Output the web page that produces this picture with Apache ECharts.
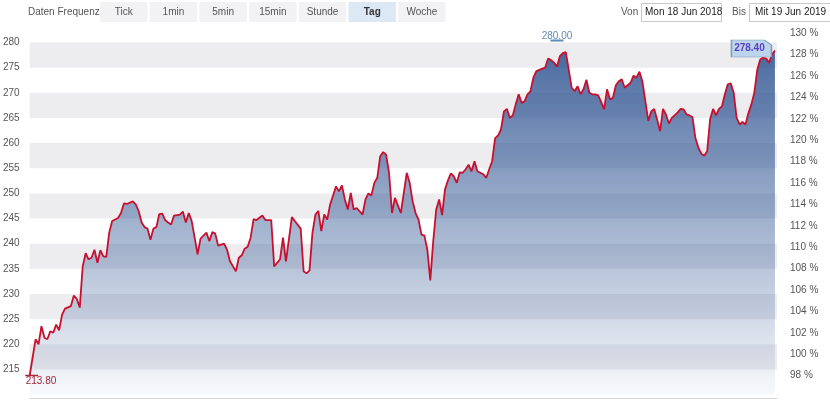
<!DOCTYPE html>
<html><head><meta charset="utf-8">
<script src="https://cdn.jsdelivr.net/npm/echarts@6/dist/echarts.min.js"></script>
<style>html,body{margin:0;padding:0;background:#fff}#c{width:830px;height:411px}</style>
</head><body><div id="c"></div>
<script>
// trading-day index (0 = Mon 18 Jun 2018)
const days = [0,2,3,4,5,6,7,8,9,10,11,12,14,15,16,17,18,19,20,21,22,23,24,25,26,27,28,30,31,32,33,35,36,37,38,39,40,41,42,43,44,45,46,47,48,49,51,52,53,54,55,56,57,58,60,61,62,63,64,66,67,68,70,71,72,73,74,75,76,77,79,80,82,83,84,85,86,87,89,90,92,93,94,95,96,97,98,99,100,101,102,104,105,106,107,108,109,110,111,113,114,115,116,117,118,119,120,121,122,123,124,126,128,129,130,131,132,133,134,135,136,137,138,139,140,141,142,143,144,145,146,147,148,149,150,151,152,154,155,156,157,158,159,160,161,162,163,164,165,166,167,168,169,170,171,172,174,175,176,177,178,179,180,181,182,183,184,185,186,187,188,189,190,191,192,193,194,195,196,197,198,199,200,201,202,204,205,206,207,208,210,211,212,213,214,215,216,217,218,220,221,222,223,224,225,226,227,228,229,230,231,232,233,234,235,236,237,238,239,240,241,242,243,244,245,246,247,248,249,250,251,252,253];
const prices = [213.8,221.0,220.0,223.6,221.3,221.0,222.6,222.3,223.9,222.8,225.9,227.1,227.6,229.7,229.0,227.3,235.5,238.1,236.9,237.2,238.8,236.2,238.7,237.5,237.4,242.2,244.5,245.1,246.1,248.0,247.9,248.4,247.8,246.5,244.2,243.3,243.0,240.8,243.0,243.3,245.9,246.0,244.7,244.2,243.8,245.6,245.8,246.4,244.2,246.1,244.5,241.2,237.9,241.0,242.2,240.5,242.3,242.0,239.6,240.0,238.8,236.5,234.5,237.2,237.7,239.0,239.4,241.2,244.9,244.7,245.6,244.7,244.7,235.5,236.2,236.9,241.2,236.5,245.3,244.5,243.0,234.5,234.1,234.7,242.2,245.8,246.5,242.5,245.8,244.8,247.8,251.4,250.4,251.6,248.8,246.8,250.1,246.8,247.1,245.8,248.8,250.0,249.6,252.1,253.1,257.4,258.2,257.7,254.1,246.1,249.1,246.1,254.1,252.1,248.4,246.1,244.8,241.8,241.6,238.8,232.7,240.5,246.8,248.8,245.7,250.8,252.6,254.0,253.4,252.1,254.2,254.1,254.8,255.7,254.4,256.4,254.4,253.8,253.1,254.8,256.4,261.0,261.5,262.7,266.3,266.8,265.0,265.5,267.7,269.7,268.0,268.3,269.7,270.3,273.0,274.3,274.8,275.0,276.8,276.5,276.0,275.2,277.3,277.9,278.1,274.6,271.0,270.3,271.3,269.7,270.7,272.6,270.0,269.7,269.7,269.5,268.2,266.7,270.7,268.7,269.0,271.5,272.3,272.7,271.0,272.0,273.4,273.0,274.2,272.3,264.4,266.3,266.8,264.7,262.4,266.8,265.7,263.9,265.0,266.1,266.8,266.7,265.7,265.5,265.2,261.0,259.1,257.9,257.5,258.4,264.8,266.8,265.5,266.8,267.3,269.7,271.7,271.9,270.0,265.0,263.7,264.2,263.7,266.0,267.7,270.0,274.6,276.6,277.0,276.8,276.0,277.6,278.4];
const lowPoint = {day: 0, value: 213.8, label: '213.80'};
const highPoint = {day: 179, value: 280.0, label: '280.00'};
const lastPoint = {day: 253, value: 278.4, label: '278.40'};
const frequencyButtons = ['Tick','1min','5min','15min','Stunde','Tag','Woche'];
const activeButton = 'Tag';
const fromDate = 'Mon 18 Jun 2018';
const toDate = 'Mit 19 Jun 2019';

const FONT = 'Liberation Sans, Arial, Helvetica, sans-serif';
const chart = echarts.init(document.getElementById('c'), null, {renderer: 'canvas'});

const graphics = [
  {type:'text', left: 28, top: 7, style:{text:'Daten Frequenz', fill:'#555', font:'10px ' + FONT}}
];
frequencyButtons.forEach((b, i) => {
  const x = 100 + i * 49.7;
  const active = b === activeButton;
  graphics.push({type:'rect', shape:{x: x, y: 2, width: 47.5, height: 20}, style:{fill: active ? '#dde8f5' : '#f2f2f4'}});
  graphics.push({type:'text', x: x + 23.75, y: 12, style:{text: b, fill: active ? '#333' : '#555', font:(active ? 'bold ' : '') + '10px ' + FONT, textAlign:'center', textVerticalAlign:'middle'}});
});
graphics.push({type:'text', x: 621, y: 12.5, style:{text:'Von', fill:'#555', font:'10px ' + FONT, textVerticalAlign:'middle'}});
graphics.push({type:'rect', shape:{x: 641.5, y: 3.5, width: 80, height: 18}, style:{fill:'#fff', stroke:'#c8c8c8', lineWidth:1}});
graphics.push({type:'text', x: 645, y: 12.5, style:{text: fromDate, fill:'#222', font:'10px ' + FONT, textVerticalAlign:'middle'}});
graphics.push({type:'text', x: 732, y: 12.5, style:{text:'Bis', fill:'#555', font:'10px ' + FONT, textVerticalAlign:'middle'}});
graphics.push({type:'rect', shape:{x: 749.5, y: 3.5, width: 82, height: 18}, style:{fill:'#fff', stroke:'#c8c8c8', lineWidth:1}});
graphics.push({type:'text', x: 755, y: 12.5, style:{text: toDate, fill:'#222', font:'10px ' + FONT, textVerticalAlign:'middle'}});

const option = {
  animation: false,
  backgroundColor: '#fff',
  graphic: graphics,
  grid: [
    {left: 26.7, right: 53, top: 17.35, bottom: 16.4},
    {left: 26.7, right: 53, top: 33.3, bottom: 13.9}
  ],
  xAxis: [
    {gridIndex: 0, type: 'value', min: 0, max: 253.7, offset: 3.5,
     axisLine: {show: true, lineStyle: {color: '#d6d6d6', width: 1}},
     axisTick: {show: false}, axisLabel: {show: false}, splitLine: {show: false}},
    {gridIndex: 1, type: 'value', min: 0, max: 1, show: false}
  ],
  yAxis: [
    {gridIndex: 0, type: 'value', min: 210, max: 285, interval: 5, position: 'left',
     axisLine: {show: false}, axisTick: {show: false}, splitLine: {show: false},
     splitArea: {show: true, areaStyle: {color: ['rgba(255,255,255,0)', '#ededf0']}},
     axisLabel: {showMinLabel: false, showMaxLabel: false, margin: 10, color: '#555', fontSize: 10, fontFamily: FONT}},
    {gridIndex: 1, type: 'value', min: 96, max: 130, interval: 2, position: 'right',
     axisLine: {show: false}, axisTick: {show: false}, splitLine: {show: false},
     axisLabel: {showMinLabel: false, margin: 13, color: '#555', fontSize: 10, fontFamily: FONT, formatter: '{value} %'}}
  ],
  series: [{
    type: 'line',
    xAxisIndex: 0, yAxisIndex: 0,
    data: days.map((d, i) => [d, prices[i]]),
    symbol: 'none',
    lineStyle: {color: '#c8102e', width: 1.8},
    areaStyle: {opacity: 1, color: new echarts.graphic.LinearGradient(0, 50, 0, 395, [
      {offset: 0, color: 'rgba(35,75,140,0.82)'},
      {offset: 1, color: 'rgba(35,75,140,0.03)'}
    ], true)},
    markPoint: {
      silent: true,
      animation: false,
      data: [
        {coord: [lowPoint.day, lowPoint.value], symbol: 'rect', symbolSize: [13, 1.5], symbolOffset: [2, 0],
         itemStyle: {color: '#a8283f'},
         label: {show: true, formatter: lowPoint.label, position: [0.5, 2], color: '#a8283f', fontSize: 10, fontFamily: FONT}},
        {coord: [highPoint.day, highPoint.value], symbol: 'rect', symbolSize: [13, 2], symbolOffset: [0, -2],
         itemStyle: {color: '#5f8bb3'},
         label: {show: true, formatter: highPoint.label, position: 'top', distance: -2, color: '#5f8bb3', fontSize: 10, fontFamily: FONT}},
        {coord: [lastPoint.day, lastPoint.value], symbol: 'path://M0,0 L33,0 L40,5 L40,17 L0,17 Z', symbolSize: [40, 17], symbolOffset: [-23.5, -2],
         itemStyle: {color: '#bcd5ec', borderColor: '#7c9cbc', borderWidth: 1},
         label: {show: true, formatter: lastPoint.label, position: 'inside', offset: [-2, 0], color: '#5b3cc4', fontWeight: 'bold', fontSize: 10, fontFamily: FONT}}
      ]
    }
  }]
};
chart.setOption(option);
</script>
</body></html>
